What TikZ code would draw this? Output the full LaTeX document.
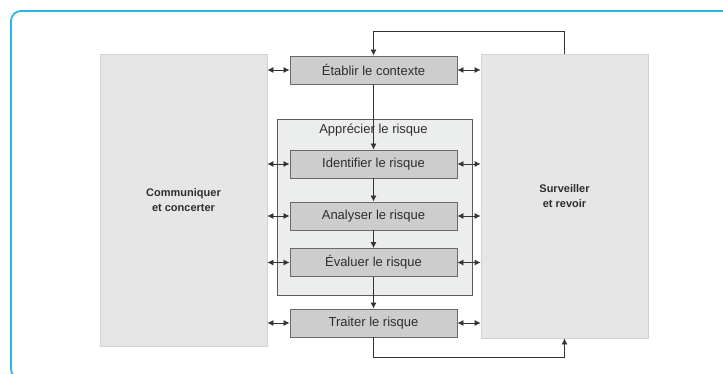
\documentclass[tikz,border=0pt]{standalone}
\usepackage{fontspec}
\setmainfont{Liberation Sans}
\usetikzlibrary{positioning,arrows.meta}
\definecolor{framecyan}{HTML}{2BB6E8}
\definecolor{stagefill}{HTML}{CDCDCD}
\definecolor{stageline}{HTML}{6A6A6A}
\definecolor{groupfill}{HTML}{ECEDED}
\definecolor{groupline}{HTML}{5C5C5C}
\definecolor{sidefill}{HTML}{E6E6E6}
\definecolor{sideline}{HTML}{D2D2D2}
\definecolor{labeltext}{HTML}{2E2E2E}
\definecolor{linkgray}{HTML}{333333}

\begin{document}
\begin{tikzpicture}[x=1pt, y=-1pt, >={Latex[length=6pt,width=6pt]},
  stage/.style={draw=stageline, fill=stagefill, line width=0.9pt,
    minimum width=167pt, minimum height=28pt, inner sep=0pt,
    font=\fontsize{13}{15}\selectfont, text=labeltext},
  side/.style={draw=sideline, fill=sidefill, line width=0.8pt,
    minimum width=167pt, inner sep=0pt, align=center, text=labeltext,
    font=\fontsize{11}{15}\selectfont\bfseries},
  link/.style={draw=linkgray, line width=0.8pt}]
  \useasboundingbox (0,0) rectangle (723,374);
  % frame, open to the right and below
  \begin{scope}
    \clip (0,0) rectangle (723,374);
    \draw[framecyan, line width=1.8pt, rounded corners=10pt] (11,11) rectangle (760,379);
  \end{scope}
  % side boxes
  \node[side, minimum height=292pt] (comm) at (183.5,200) {Communiquer\\et concerter};
  \node[side, minimum height=284pt] (surv) at (564.5,196) {Surveiller\\et revoir};
  % risk assessment group
  \node[draw=groupline, fill=groupfill, line width=0.9pt, minimum width=195pt,
    minimum height=176pt] (appr) at (374.5,207) {};
  \node[text=labeltext, font=\fontsize{13}{15}\selectfont] (apprtitle) at (373.5,130) {Apprécier le risque};
  % stages
  \node[stage] (etab) at (373.5,70) {Établir le contexte};
  \node[stage] (iden) at (373.5,164) {Identifier le risque};
  \node[stage] (anal) at (373.5,216) {Analyser le risque};
  \node[stage] (eval) at (373.5,262.5) {Évaluer le risque};
  \node[stage] (trai) at (373.5,323) {Traiter le risque};
  % main flow
  \draw[link,->] (etab) -- (iden);
  \draw[link,->] (iden) -- (anal);
  \draw[link,->] (anal) -- (eval);
  \draw[link,->] (eval) -- (trai);
  % feedback loops
  \draw[link,->] (surv.north) -- ++(0,-22) -| (etab.north);
  \draw[link,->] (trai.south) -- ++(0,20) -| (surv.south);
  % exchanges with the side boxes
  \foreach \s in {etab,iden,anal,eval,trai} {
    \draw[link,<->] (comm.east |- \s.west) -- (\s.west);
    \draw[link,<->] (\s.east) -- (surv.west |- \s.east);
  }
\end{tikzpicture}
\end{document}
